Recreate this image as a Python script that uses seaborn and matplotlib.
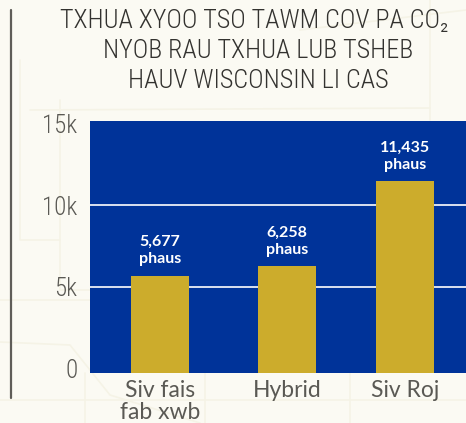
import seaborn as sns
import matplotlib.pyplot as plt
from matplotlib.lines import Line2D

# chart values
categories = ["Siv fais\nfab xwb", "Hybrid", "Siv Roj"]
values = [5677, 6258, 11435]
value_labels = ["5,677\nphaus", "6,258\nphaus", "11,435\nphaus"]
y_ticks = [0, 5000, 10000, 15000]
y_tick_labels = ["0", "5k", "10k", "15k"]
title_lines = ["TXHUA XYOO TSO TAWM COV PA CO₂", "NYOB RAU TXHUA LUB TSHEB", "HAUV WISCONSIN LI CAS"]

bg = "#fbfaf3"
blue = "#003399"
gold = "#ccac2c"
text_col = "#5a5954"
map_col = "#f5f3e6"

sns.set_theme(style="white")
plt.rcParams["font.family"] = ["Lato", "DejaVu Sans"]

W, H = 466, 423
fig = plt.figure(figsize=(W / 100, H / 100), dpi=100, facecolor=bg)
ax = fig.add_axes([90 / W, 1 - 373 / H, (W - 90) / W, (373 - 121) / H], facecolor=blue)


# px helper for figure furniture
def fx(x):
    return x / W


def fy(y):
    return 1 - y / H


# faint map lines behind everything
for xs, ys in [([0, 70, 110, 200], [342, 345, 395, 423]),
               ([0, 90], [300, 300]),
               ([20, 20, 60], [60, 240, 240]),
               ([60, 60, 90], [100, 290, 290]),
               ([85, 85], [373, 423]),
               ([205, 205], [373, 423]),
               ([350, 350], [373, 423]),
               ([0, 466], [400, 400]),
               ([300, 466], [30, 10]),
               ([30, 430], [110, 108]),
               ([430, 430], [0, 120])]:
    fig.add_artist(Line2D([fx(x) for x in xs], [fy(y) for y in ys], color=map_col, lw=1.2, zorder=0))

# vertical rule at far left
fig.add_artist(Line2D([fx(11), fx(11)], [fy(10), fy(398)], color="#5f5d58", lw=1.6))

sns.barplot(x=categories, y=values, color=gold, saturation=1, width=0.47, linewidth=0, ax=ax, zorder=3)

ax.set_xlim(-0.571, 2.498)
ax.set_ylim(-244, 15122)

# middle bar sits a little right of even spacing
nudges = [0, 0.037, 0]
for patch, nudge, v, lab in zip(ax.patches, nudges, values, value_labels):
    patch.set_x(patch.get_x() + nudge)
    # bars run down to the bottom edge of the panel
    patch.set_y(-244)
    patch.set_height(v + 244)
    cx = patch.get_x() + patch.get_width() / 2
    ax.annotate(lab, (cx, v), xytext=(0, 7), textcoords="offset points", ha="center", va="bottom",
                color="white", fontsize=11.5, fontweight="bold", linespacing=1.3, zorder=4)

ax.set_yticks(y_ticks, y_tick_labels)
ax.set_xticks([i + n for i, n in enumerate(nudges)], categories)
ax.yaxis.grid(True, color="white", lw=1.2, zorder=1)
ax.xaxis.grid(False)
ax.set_axisbelow(True)
# only the inner gridlines show
for tick, t in zip(ax.yaxis.get_major_ticks(), y_ticks):
    tick.gridline.set_visible(t in (5000, 10000))
sns.despine(ax=ax, left=True, bottom=True)
ax.tick_params(axis="y", length=0, pad=9, labelsize=18, labelcolor=text_col)
ax.tick_params(axis="x", length=0, pad=5, labelsize=16.5, labelcolor=text_col)
for lab in ax.get_yticklabels():
    lab.set_family(["Roboto Condensed", "DejaVu Sans"])
    lab.set_fontweight(300)
for lab in ax.get_xticklabels():
    lab.set_linespacing(1.08)

# title, one text per line to hold the tight leading
for x, y, line in zip([254, 258, 258], [21, 51, 81], title_lines):
    fig.text(fx(x), fy(y), line, ha="center", va="center", color="#33322f", fontsize=18.8,
             family=["Roboto Condensed", "DejaVu Sans"], fontweight=300)

fig.savefig("out.png", dpi=100, facecolor=bg)
